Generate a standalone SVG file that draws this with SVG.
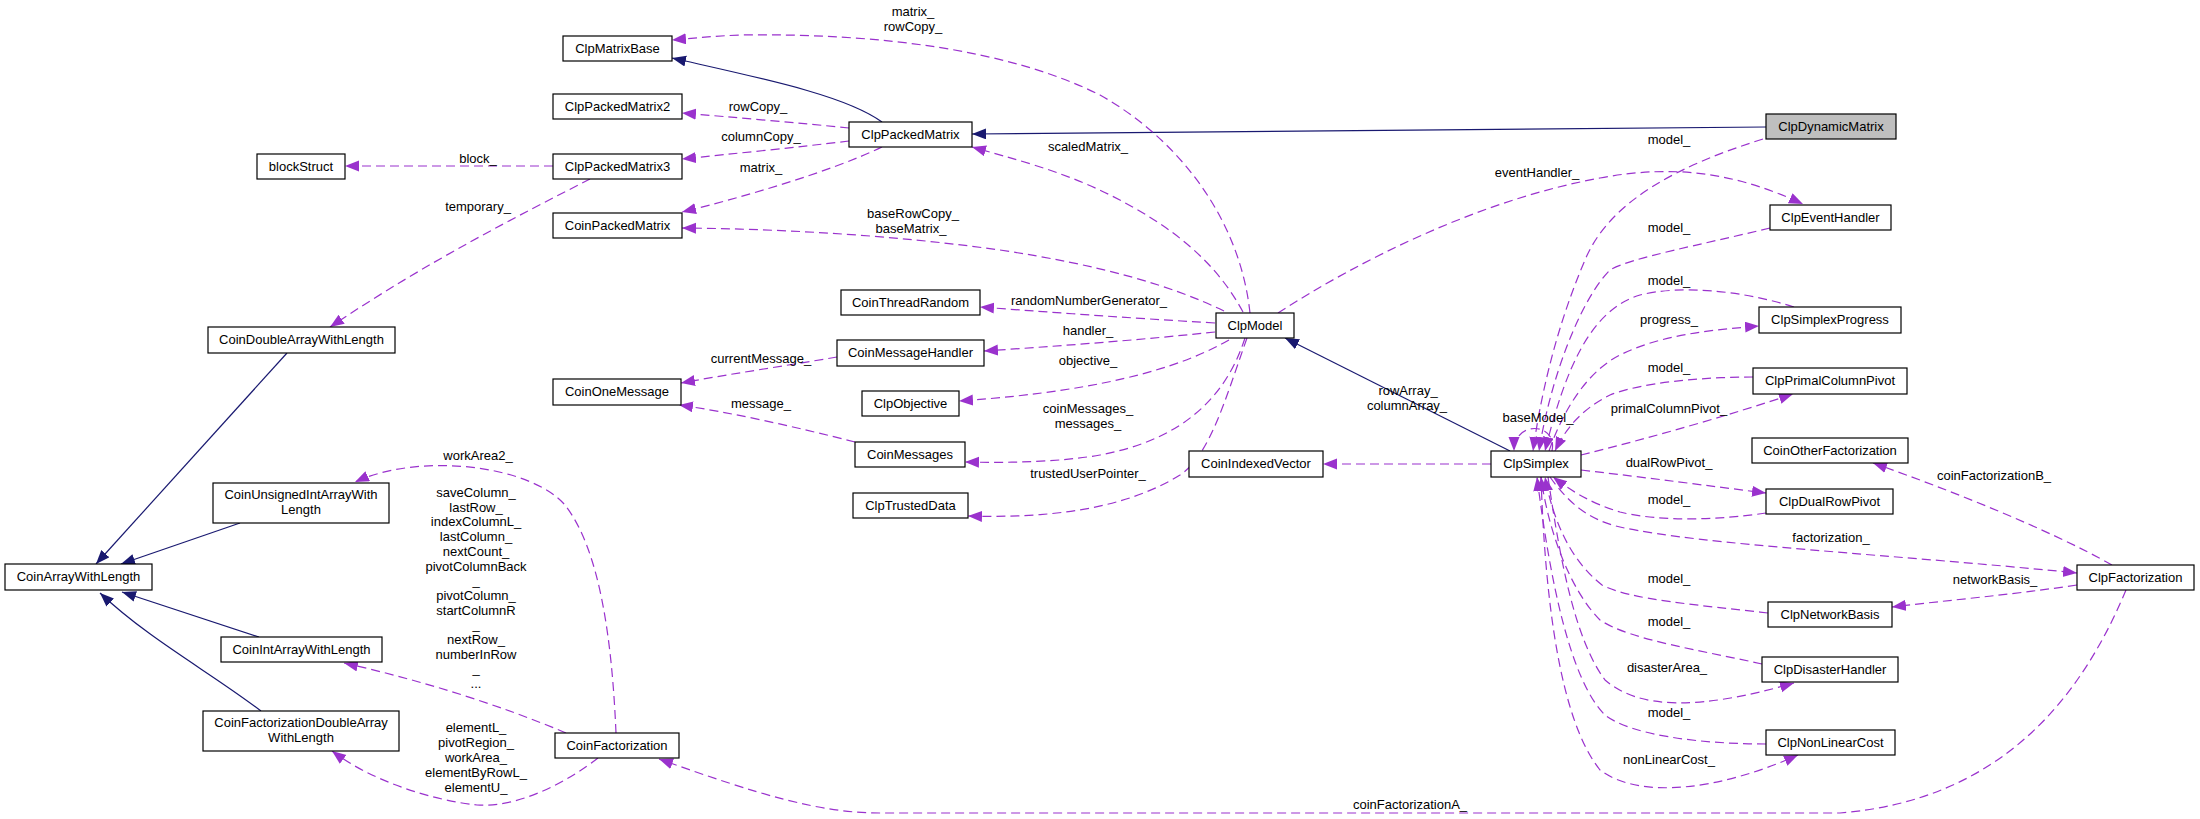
<svg xmlns="http://www.w3.org/2000/svg" width="2200" height="819" viewBox="0 0 2200 819">
<style>
.n rect{fill:#fff;stroke:#000;stroke-width:1.2}
text{font-family:"Liberation Sans",Arial,Helvetica,sans-serif;font-size:13px;fill:#000;text-anchor:middle}
.u{fill:none;stroke:#9a32cd;stroke-width:1.2;stroke-dasharray:9,5;marker-end:url(#ap)}
.i{fill:none;stroke:#191970;stroke-width:1.2;marker-end:url(#ab)}
</style>
<defs>
<marker id="ap" markerUnits="userSpaceOnUse" markerWidth="15" markerHeight="12" refX="14" refY="5.5" orient="auto"><path d="M0,0 L14,5.5 L0,11 z" fill="#9a32cd"/></marker>
<marker id="ab" markerUnits="userSpaceOnUse" markerWidth="15" markerHeight="12" refX="14" refY="5.5" orient="auto"><path d="M0,0 L14,5.5 L0,11 z" fill="#191970"/></marker>
</defs>
<rect width="2200" height="819" fill="#fff"/>
<g id="edges">
<path class="i" d="M882,122 C845,95 760,78 672,58"/>
<path class="i" d="M1766,127 L972,134"/>
<path class="i" d="M1510,451 L1285,338"/>
<path class="i" d="M287,353 L96,564"/>
<path class="i" d="M240,523 L121,564"/>
<path class="i" d="M259,637 L122,592"/>
<path class="i" d="M261,711 C210,672 150,640 100,593"/>

<path class="u" d="M1250,313 C1240,220 1180,140 1100,95 C1010,50 880,33 740,35 C715,36 695,38 672,40"/>
<path class="u" d="M1243,312 C1215,260 1170,225 1110,195 C1060,170 1010,158 972,147"/>
<path class="u" d="M849,128 C800,123 730,117 682,113"/>
<path class="u" d="M849,141 C800,147 730,154 682,159"/>
<path class="u" d="M882,147 C830,172 740,198 682,212"/>
<path class="u" d="M1224,311 C1170,285 1100,265 1000,250 C900,236 790,229 682,228"/>
<path class="u" d="M553,166 L345,166"/>
<path class="u" d="M590,179 C520,215 430,260 330,327"/>
<path class="u" d="M1215,323 C1130,318 1060,313 980,307"/>
<path class="u" d="M1215,332 C1140,340 1060,346 984,351"/>
<path class="u" d="M1229,340 C1190,362 1120,390 959,401"/>
<path class="u" d="M837,357 C790,365 730,374 681,383"/>
<path class="u" d="M855,442 C800,428 730,412 679,405"/>
<path class="u" d="M1245,338 C1225,400 1180,440 1100,455 C1060,462 1010,463 965,462"/>
<path class="u" d="M1247,338 C1225,400 1210,455 1180,475 C1120,512 1040,518 968,516"/>
<path class="u" d="M1491,464 L1323,464"/>
<path class="u" d="M1278,313 C1360,260 1480,200 1600,178 C1680,163 1740,175 1803,204"/>
<path class="u" d="M1763,139 C1680,165 1610,200 1585,260 C1555,330 1540,400 1533,451"/>
<path class="u" d="M1770,228 C1700,245 1630,258 1610,270 C1580,300 1550,380 1539,451"/>
<path class="u" d="M1794,307 C1740,290 1680,285 1640,295 C1590,310 1565,370 1545,451"/>
<path class="u" d="M1549,451 C1565,405 1590,370 1620,355 C1660,335 1710,330 1759,326"/>
<path class="u" d="M1753,377 C1700,377 1640,383 1610,395 C1580,410 1565,430 1555,451"/>
<path class="u" d="M1581,455 C1650,438 1730,415 1793,394"/>
<path class="u" d="M1552,451 C1558,422 1514,420 1514,451"/>
<path class="u" d="M1581,470 C1650,478 1710,486 1766,493"/>
<path class="u" d="M1766,513 C1720,520 1660,522 1620,512 C1590,503 1570,490 1553,477"/>
<path class="u" d="M1550,477 C1570,505 1590,520 1620,527 C1700,545 1900,555 2077,573"/>
<path class="u" d="M2112,565 C2050,530 1950,490 1873,463"/>
<path class="u" d="M2077,585 C2010,595 1950,600 1892,607"/>
<path class="u" d="M1768,613 C1700,605 1630,600 1602,585 C1570,560 1553,520 1545,477"/>
<path class="u" d="M1762,664 C1700,650 1630,640 1600,620 C1570,590 1548,530 1541,477"/>
<path class="u" d="M1548,477 C1560,560 1575,640 1605,680 C1640,710 1700,710 1794,683"/>
<path class="u" d="M1766,744 C1700,744 1630,735 1605,715 C1570,680 1550,580 1537,477"/>
<path class="u" d="M1541,477 C1545,600 1560,720 1600,770 C1640,800 1720,790 1798,755"/>
<path class="u" d="M2126,590 C2080,700 2000,800 1840,813 L880,813 C820,813 760,795 659,759"/>
<path class="u" d="M616,733 C612,640 600,550 565,505 C530,465 420,452 355,482"/>
<path class="u" d="M566,733 C500,705 420,680 344,663"/>
<path class="u" d="M598,758 C570,780 520,808 477,805 C430,800 370,780 332,751"/>
</g>
<g id="edge-labels">
<text x="913" y="16">matrix_</text><text x="913" y="31">rowCopy_</text>
<text x="1088" y="151">scaledMatrix_</text>
<text x="758" y="111">rowCopy_</text>
<text x="761" y="141">columnCopy_</text>
<text x="761" y="172">matrix_</text>
<text x="913" y="218">baseRowCopy_</text><text x="911" y="233">baseMatrix_</text>
<text x="478" y="163">block_</text>
<text x="478" y="211">temporary_</text>
<text x="1089" y="305">randomNumberGenerator_</text>
<text x="1088" y="335">handler_</text>
<text x="1088" y="365">objective_</text>
<text x="761" y="363">currentMessage_</text>
<text x="761" y="408">message_</text>
<text x="1088" y="413">coinMessages_</text><text x="1088" y="428">messages_</text>
<text x="1088" y="478">trustedUserPointer_</text>
<text x="1408" y="395">rowArray_</text><text x="1407" y="410">columnArray_</text>
<text x="1537" y="177">eventHandler_</text>
<text x="1669" y="144">model_</text>
<text x="1669" y="232">model_</text>
<text x="1669" y="285">model_</text>
<text x="1669" y="324">progress_</text>
<text x="1669" y="372">model_</text>
<text x="1669" y="413">primalColumnPivot_</text>
<text x="1538" y="422">baseModel_</text>
<text x="1669" y="467">dualRowPivot_</text>
<text x="1669" y="504">model_</text>
<text x="1831" y="542">factorization_</text>
<text x="1994" y="480">coinFactorizationB_</text>
<text x="1995" y="584">networkBasis_</text>
<text x="1669" y="583">model_</text>
<text x="1669" y="626">model_</text>
<text x="1667" y="672">disasterArea_</text>
<text x="1669" y="717">model_</text>
<text x="1669" y="764">nonLinearCost_</text>
<text x="1410" y="809">coinFactorizationA_</text>
<text x="478" y="460">workArea2_</text>
<text x="476" y="497">saveColumn_</text>
<text x="476" y="512">lastRow_</text>
<text x="476" y="526">indexColumnL_</text>
<text x="476" y="541">lastColumn_</text>
<text x="476" y="556">nextCount_</text>
<text x="476" y="571">pivotColumnBack</text>
<text x="476" y="585">_</text>
<text x="476" y="600">pivotColumn_</text>
<text x="476" y="615">startColumnR</text>
<text x="476" y="629">_</text>
<text x="476" y="644">nextRow_</text>
<text x="476" y="659">numberInRow</text>
<text x="476" y="673">_</text>
<text x="476" y="688">...</text>
<text x="476" y="732">elementL_</text>
<text x="476" y="747">pivotRegion_</text>
<text x="476" y="762">workArea_</text>
<text x="476" y="777">elementByRowL_</text>
<text x="476" y="792">elementU_</text>
</g>
<g id="ClpDynamicMatrix" class="n"><rect x="1766" y="114" width="130" height="25" style="fill:#bfbfbf"/><text x="1831" y="131">ClpDynamicMatrix</text></g>
<g id="ClpPackedMatrix" class="n"><rect x="849" y="122" width="123" height="25"/><text x="910.5" y="139">ClpPackedMatrix</text></g>
<g id="ClpMatrixBase" class="n"><rect x="563" y="36" width="109" height="25"/><text x="617.5" y="53">ClpMatrixBase</text></g>
<g id="ClpPackedMatrix2" class="n"><rect x="553" y="94" width="129" height="25"/><text x="617.5" y="111">ClpPackedMatrix2</text></g>
<g id="ClpPackedMatrix3" class="n"><rect x="553" y="154" width="129" height="25"/><text x="617.5" y="171">ClpPackedMatrix3</text></g>
<g id="blockStruct" class="n"><rect x="257" y="154" width="88" height="25"/><text x="301" y="171">blockStruct</text></g>
<g id="CoinPackedMatrix" class="n"><rect x="553" y="213" width="129" height="25"/><text x="617.5" y="230">CoinPackedMatrix</text></g>
<g id="CoinDoubleArrayWithLength" class="n"><rect x="208" y="327" width="187" height="26"/><text x="301.5" y="344">CoinDoubleArrayWithLength</text></g>
<g id="CoinOneMessage" class="n"><rect x="553" y="379" width="128" height="26"/><text x="617" y="396">CoinOneMessage</text></g>
<g id="CoinThreadRandom" class="n"><rect x="841" y="290" width="139" height="25"/><text x="910.5" y="307">CoinThreadRandom</text></g>
<g id="CoinMessageHandler" class="n"><rect x="837" y="340" width="147" height="26"/><text x="910.5" y="357">CoinMessageHandler</text></g>
<g id="ClpObjective" class="n"><rect x="862" y="391" width="97" height="25"/><text x="910.5" y="408">ClpObjective</text></g>
<g id="CoinMessages" class="n"><rect x="855" y="442" width="110" height="25"/><text x="910" y="459">CoinMessages</text></g>
<g id="ClpTrustedData" class="n"><rect x="853" y="493" width="115" height="25"/><text x="910.5" y="510">ClpTrustedData</text></g>
<g id="ClpModel" class="n"><rect x="1216" y="313" width="78" height="25"/><text x="1255" y="330">ClpModel</text></g>
<g id="CoinIndexedVector" class="n"><rect x="1189" y="451" width="134" height="26"/><text x="1256" y="468">CoinIndexedVector</text></g>
<g id="ClpEventHandler" class="n"><rect x="1770" y="205" width="121" height="25"/><text x="1830.5" y="222">ClpEventHandler</text></g>
<g id="ClpSimplexProgress" class="n"><rect x="1759" y="307" width="142" height="26"/><text x="1830" y="324">ClpSimplexProgress</text></g>
<g id="ClpPrimalColumnPivot" class="n"><rect x="1753" y="368" width="154" height="26"/><text x="1830" y="385">ClpPrimalColumnPivot</text></g>
<g id="ClpSimplex" class="n"><rect x="1491" y="451" width="90" height="26"/><text x="1536" y="468">ClpSimplex</text></g>
<g id="CoinOtherFactorization" class="n"><rect x="1752" y="438" width="156" height="25"/><text x="1830" y="455">CoinOtherFactorization</text></g>
<g id="ClpDualRowPivot" class="n"><rect x="1766" y="489" width="127" height="25"/><text x="1829.5" y="506">ClpDualRowPivot</text></g>
<g id="ClpFactorization" class="n"><rect x="2077" y="565" width="117" height="25"/><text x="2135.5" y="582">ClpFactorization</text></g>
<g id="ClpNetworkBasis" class="n"><rect x="1768" y="602" width="124" height="25"/><text x="1830" y="619">ClpNetworkBasis</text></g>
<g id="ClpDisasterHandler" class="n"><rect x="1762" y="657" width="136" height="25"/><text x="1830" y="674">ClpDisasterHandler</text></g>
<g id="ClpNonLinearCost" class="n"><rect x="1766" y="730" width="129" height="25"/><text x="1830.5" y="747">ClpNonLinearCost</text></g>
<g id="CoinUnsignedIntArrayWithLength" class="n"><rect x="213" y="483" width="176" height="40"/><text x="301" y="499">CoinUnsignedIntArrayWith</text><text x="301" y="514">Length</text></g>
<g id="CoinArrayWithLength" class="n"><rect x="5" y="564" width="147" height="26"/><text x="78.5" y="581">CoinArrayWithLength</text></g>
<g id="CoinIntArrayWithLength" class="n"><rect x="221" y="637" width="161" height="25"/><text x="301.5" y="654">CoinIntArrayWithLength</text></g>
<g id="CoinFactorizationDoubleArrayWithLength" class="n"><rect x="203" y="711" width="196" height="40"/><text x="301" y="727">CoinFactorizationDoubleArray</text><text x="301" y="742">WithLength</text></g>
<g id="CoinFactorization" class="n"><rect x="555" y="733" width="124" height="25"/><text x="617" y="750">CoinFactorization</text></g>
</svg>
